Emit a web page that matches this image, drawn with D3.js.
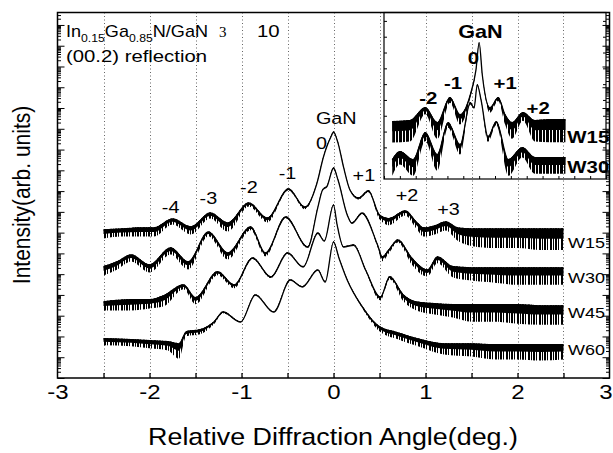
<!DOCTYPE html>
<html>
<head>
<meta charset="utf-8">
<script src="https://cdn.jsdelivr.net/npm/d3@7"></script>
<style>
  body { margin: 0; background: #fff; }
  svg { font-family: "Liberation Sans", Arial, sans-serif; }
</style>
</head>
<body>
<div id="chart"></div>
<script>

// main scans: [relative angle (deg), log10 intensity (decades), noise depth (decades)]
var w15 = [[-2.5,7.12,0.40],[-2.3,7.16,0.35],[-2.1,7.21,0.40],[-1.95,7.21,0.40],[-1.75,7.64,0.25],[-1.55,7.26,0.35],
  [-1.34,7.93,0.25],[-1.15,7.45,0.40],[-0.92,8.41,0.15],[-0.72,7.69,0.20],[-0.49,9.09,0.05],[-0.31,8.22,0.10],
  [-0.18,9.38,0],[-0.11,10.63,0],[-0.03,11.59,0],[0,11.83,0],[0.05,11.30,0],[0.11,10.14,0],[0.18,9.04,0],
  [0.27,8.65,0.05],[0.38,9.00,0.05],[0.5,7.84,0.2],[0.6,7.66,0.3],[0.78,8.03,0.2],[0.9,7.50,0.3],[0.98,7.21,0.4],
  [1.1,7.31,0.4],[1.22,7.50,0.4],[1.35,7.21,0.6],[1.5,7.16,0.8],[1.75,7.16,0.9],[2.0,7.16,0.9],[2.25,7.16,1.0],[2.5,7.16,1.0]];

var w30 = [[-2.5,5.34,0.4],[-2.35,5.58,0.35],[-2.2,5.91,0.3],[-2.0,5.43,0.35],[-1.77,6.25,0.3],[-1.58,5.58,0.35],
  [-1.36,7.02,0.2],[-1.15,6.01,0.3],[-0.9,7.26,0.15],[-0.74,6.01,0.15],[-0.52,7.74,0.05],[-0.28,6.30,0.05],
  [-0.17,8.22,0],[-0.12,9.04,0],[-0.07,9.23,0],[0,10.10,0],[0.05,9.52,0],[0.15,7.84,0],[0.2,7.45,0],
  [0.31,7.93,0.05],[0.48,6.39,0.1],[0.53,5.82,0.2],[0.6,6.15,0.15],[0.7,6.63,0.1],[0.85,5.77,0.3],[1.02,5.19,0.3],
  [1.13,5.82,0.3],[1.3,5.34,0.5],[1.5,5.29,0.6],[1.75,5.29,0.7],[2.0,5.29,0.8],[2.25,5.29,0.8],[2.5,5.29,0.8]];

var w45 = [[-2.5,3.65,0.4],[-2.2,3.75,0.5],[-2.0,3.75,0.4],[-1.85,3.94,0.5],[-1.63,4.47,0.2],[-1.5,3.85,0.3],
  [-1.26,5.10,0.15],[-1.08,4.47,0.15],[-0.88,5.77,0.05],[-0.68,4.86,0.05],[-0.5,6.01,0],[-0.33,5.34,0],
  [-0.17,6.97,0],[-0.1,6.59,0],[0,8.32,0],[0.04,7.36,0],[0.11,6.30,0],[0.22,6.39,0],[0.35,5.19,0.05],
  [0.51,3.89,0.15],[0.61,4.86,0.1],[0.76,3.99,0.3],[0.9,3.65,0.4],[1.1,3.56,0.5],[1.3,3.51,0.6],[1.5,3.51,0.8],
  [1.75,3.51,0.8],[2.0,3.51,0.9],[2.25,3.46,0.9],[2.5,3.46,0.9]];

var w60 = [[-2.5,1.88,0.3],[-2.2,1.83,0.3],[-2.0,1.78,0.35],[-1.8,1.73,0.4],[-1.68,1.63,0.7],[-1.6,2.21,0.2],
  [-1.45,2.31,0.2],[-1.3,2.69,0.1],[-1.2,3.17,0.05],[-1.01,2.69,0],[-0.85,3.99,0],[-0.65,3.17,0],[-0.47,4.71,0],
  [-0.34,4.38,0],[-0.17,5.19,0],[-0.09,4.62,0],[0,6.54,0],[0.06,5.77,0],[0.15,4.71,0],[0.3,3.51,0.05],
  [0.5,2.45,0.2],[0.7,2.16,0.3],[0.95,1.83,0.35],[1.2,1.63,0.5],[1.5,1.63,0.6],[1.75,1.59,0.7],[2.0,1.59,0.7],
  [2.25,1.59,0.75],[2.5,1.59,0.7]];

// inset scans (same layout of values)
var in15 = [[-1.37,3.61,1.3],[-1.09,3.67,1.3],[-0.85,4.49,0.4],[-0.66,3.54,1.0],[-0.46,5.13,0.3],[-0.30,4.05,0.6],
  [-0.14,5.32,0.2],[-0.05,6.90,0],[0,8.61,0],[0.05,6.58,0],[0.17,4.49,0.3],[0.30,5.13,0.2],[0.41,4.05,0.6],
  [0.52,3.54,1.0],[0.69,4.18,0.5],[0.88,3.67,1.3],[1.12,3.73,1.4],[1.36,3.73,1.4]];

var in30 = [[-1.37,1.20,1.0],[-1.25,1.71,0.8],[-1.04,1.20,1.0],[-0.85,2.91,0.5],[-0.66,1.52,1.0],[-0.49,3.54,0.3],
  [-0.30,2.15,0.6],[-0.14,4.81,0.1],[-0.08,4.49,0],[-0.03,5.95,0],[0.03,5.00,0],[0.14,2.66,0.3],[0.27,3.61,0.2],
  [0.46,1.20,1.0],[0.68,1.96,0.6],[0.88,1.33,1.0],[1.12,1.33,1.0],[1.36,1.33,1.0]];

var sampleNames = ["W15", "W30", "W45", "W60"];
// [angle, decades] where each sample name sits
var sampleLabelPos = [[2.55,6.49],[2.55,4.81],[2.55,3.13],[2.55,1.35]];

var satLabels = ["-4", "-3", "-2", "-1", "0", "GaN", "+1", "+2", "+3"];
var satLabelPos = [[-1.77,8.22],[-1.36,8.65],[-0.92,9.18],[-0.5,9.86],[-0.13,11.30],[0.03,12.5],[0.33,9.76],[0.80,8.80],[1.25,8.13]];

var insetLabels = ["GaN", "0", "-2", "-1", "+1", "+2", "W15", "W30"];
var insetLabelPos = [[0.02,9.30],[-0.09,7.66],[-0.80,5.13],[-0.41,6.08],[0.41,6.08],[0.93,4.49],[1.39,2.66],[1.39,0.76]];

var xTickValues = [-3, -2, -1, 0, 1, 2, 3];
var xTickLabels = ["-3", "-2", "-1", "0", "1", "2", "3"];
var gridValues = [-2.5, -2, -1.5, -1, -0.5, 0, 0.5, 1, 1.5, 2, 2.5];

var W = 613, H = 453;
var stretch = 1.2;   // the lettering of the original is a little wide
var svg = d3.select("#chart").append("svg")
  .attr("width", W)
  .attr("height", H);

var x = d3.scaleLinear().domain([-3, 3]).range([57.5, 609.5]);
var y = d3.scaleLog().domain([1, Math.pow(10, 17.6)]).range([378, 12.5]);

var xi = d3.scaleLinear().domain([-1.5, 2.0]).range([384, 606]);
var yi = d3.scaleLog().domain([1, Math.pow(10, 10.5)]).range([179, 13]);

var put_text = function(g, txt, px, py, size, anchor, bold, sx) {
  return g.append("text")
    .attr("transform", "translate(" + px + "," + py + ") scale(" + (sx || stretch) + ",1)")
    .attr("text-anchor", anchor)
    .attr("dominant-baseline", "central")
    .attr("font-size", size)
    .attr("font-weight", bold ? "bold" : "normal")
    .text(txt);
};

// stripes used for the noisy parts of the scans
var defs = svg.append("defs");
defs.append("pattern")
  .attr("id", "spikes")
  .attr("patternUnits", "userSpaceOnUse")
  .attr("width", 11).attr("height", 20)
  .append("path")
  .attr("d", "M0.5,0V20M1.5,0V20M3.5,0V20M5.5,0V20M6.5,0V20M8.5,0V20")
  .attr("stroke", "#000").attr("stroke-width", 1);
defs.append("pattern")
  .attr("id", "spikesDense")
  .attr("patternUnits", "userSpaceOnUse")
  .attr("width", 7).attr("height", 20)
  .append("path")
  .attr("d", "M0.5,0V20M1.5,0V20M2.5,0V20M4.5,0V20M5.5,0V20")
  .attr("stroke", "#000").attr("stroke-width", 1);

// dotted grid
svg.selectAll(".grid").data(gridValues).enter().append("line")
  .attr("class", "grid")
  .attr("x1", function(d) { return Math.round(x(d)) + 0.5; })
  .attr("x2", function(d) { return Math.round(x(d)) + 0.5; })
  .attr("y1", 12.5).attr("y2", 378)
  .style("stroke", "#666")
  .style("stroke-width", 1)
  .style("stroke-dasharray", "1,2.5");

var draw_scan = function(g, data, sx, sy, dense) {
  var py = function(v) { return sy(Math.pow(10, v)); };
  var band = d3.area()
    .x(function(d) { return sx(d[0]); })
    .y0(function(d) { return py(d[1] - d[2]); })
    .y1(function(d) { return py(d[1]) - 1; })
    .curve(d3.curveMonotoneX);
  var core = d3.area()
    .x(function(d) { return sx(d[0]); })
    .y0(function(d) { return py(d[1] - 0.45 * d[2]); })
    .y1(function(d) { return py(d[1]) - 1; })
    .curve(d3.curveMonotoneX);
  var line = d3.line()
    .x(function(d) { return sx(d[0]); })
    .y(function(d) { return py(d[1]); })
    .curve(d3.curveMonotoneX);
  g.append("path").attr("d", band(data))
    .style("fill", dense ? "url(#spikesDense)" : "url(#spikes)");
  g.append("path").attr("d", core(data)).style("fill", "#000");
  g.append("path").attr("d", line(data))
    .style("fill", "none")
    .style("stroke", "#000")
    .style("stroke-width", 1.3);
};

var scans = svg.append("g");
[w15, w30, w45, w60].forEach(function(s) { draw_scan(scans, s, x, y, false); });

sampleNames.forEach(function(d, i) {
  put_text(svg, d, x(sampleLabelPos[i][0]), y(Math.pow(10, sampleLabelPos[i][1])), 15, "start", false);
});
satLabels.forEach(function(d, i) {
  put_text(svg, d, x(satLabelPos[i][0]), y(Math.pow(10, satLabelPos[i][1])), 16.5, "middle", false);
});

// inset
var inset = svg.append("g");
inset.append("rect")
  .attr("x", 384).attr("y", 12.5).attr("width", 222).attr("height", 166.5)
  .style("fill", "none").style("stroke", "#000").style("stroke-width", 1.2);
inset.append("g")
  .attr("transform", "translate(0,179)")
  .call(d3.axisBottom(xi).tickValues(d3.range(-1.5, 2.01, 0.25)).tickSize(-3).tickFormat(""))
  .call(function(g) { g.select(".domain").remove(); });
[[d3.axisLeft, 384], [d3.axisRight, 606]].forEach(function(a) {
  inset.append("g")
    .attr("transform", "translate(" + a[1] + ",0)")
    .call(a[0](yi).tickValues(d3.range(1, 11).map(function(k) { return Math.pow(10, k); })).tickSize(-3).tickFormat(""))
    .call(function(g) { g.select(".domain").remove(); });
});
[in15, in30].forEach(function(s) { draw_scan(inset, s, xi, yi, true); });

insetLabels.forEach(function(d, i) {
  put_text(inset, d, xi(insetLabelPos[i][0]), yi(Math.pow(10, insetLabelPos[i][1])), i == 0 ? 18 : 17,
    i >= 6 ? "start" : "middle", true);
});

// frame and axes
svg.append("rect")
  .attr("x", 57.5).attr("y", 12.5).attr("width", 552).attr("height", 365.5)
  .style("fill", "none").style("stroke", "#000").style("stroke-width", 1.5);

svg.append("g")
  .attr("transform", "translate(0,378)")
  .call(d3.axisBottom(x).tickValues(gridValues).tickSize(-5).tickFormat(""))
  .call(function(g) { g.select(".domain").remove(); g.selectAll("line").style("stroke-width", 1.3); });

svg.append("g")
  .attr("transform", "translate(0,378)")
  .call(d3.axisBottom(x).tickValues(xTickValues).tickSize(0).tickPadding(7)
    .tickFormat(function(d, i) { return xTickLabels[i]; }))
  .call(function(g) {
    g.select(".domain").remove();
    g.selectAll("text")
      .attr("font-size", 20)
      .attr("font-family", "Liberation Sans, Arial, sans-serif")
      .attr("fill", "#000")
      .attr("transform", function(d) { return (d == 3 ? "translate(-4,0) " : "") + "scale(" + stretch + ",1)"; });
  });

var majors = [], minors = [];
for (var k = 0; k <= 17; k++) {
  majors.push(Math.pow(10, k));
  for (var m = 2; m <= 9; m++) {
    if (m * Math.pow(10, k) < Math.pow(10, 17.6)) minors.push(m * Math.pow(10, k));
  }
}
[[d3.axisLeft, 57.5], [d3.axisRight, 609.5]].forEach(function(a) {
  svg.append("g")
    .attr("transform", "translate(" + a[1] + ",0)")
    .call(a[0](y).tickValues(majors).tickSize(-7).tickFormat(""))
    .call(function(g) { g.select(".domain").remove(); });
  svg.append("g")
    .attr("transform", "translate(" + a[1] + ",0)")
    .call(a[0](y).tickValues(minors).tickSize(-3.5).tickFormat(""))
    .call(function(g) { g.select(".domain").remove(); });
});

// titles
put_text(svg, "Relative Diffraction Angle(deg.)", 333, 437, 24, "middle", false, 1.12);
svg.append("text")
  .attr("transform", "translate(22,195) rotate(-90) scale(1,1.15)")
  .attr("text-anchor", "middle")
  .attr("dominant-baseline", "central")
  .attr("font-size", 21)
  .text("Intensity(arb. units)");

// sample annotation
var t1 = svg.append("text")
  .attr("x", 66).attr("y", 37)
  .attr("font-size", 17)
  .attr("textLength", 142)
  .attr("lengthAdjust", "spacingAndGlyphs");
t1.append("tspan").text("In");
t1.append("tspan").attr("font-size", 11.5).attr("dy", 5).text("0.15");
t1.append("tspan").attr("dy", -5).text("Ga");
t1.append("tspan").attr("font-size", 11.5).attr("dy", 5).text("0.85");
t1.append("tspan").attr("dy", -5).text("N/GaN");
svg.append("text")
  .attr("x", 219).attr("y", 37)
  .attr("font-family", "Liberation Serif, serif")
  .attr("font-size", 15).text("3");
svg.append("text")
  .attr("transform", "translate(257,37) scale(" + stretch + ",1)")
  .attr("font-size", 17).text("10");
svg.append("text")
  .attr("x", 66).attr("y", 62)
  .attr("font-size", 17)
  .attr("textLength", 141)
  .attr("lengthAdjust", "spacingAndGlyphs")
  .text("(00.2) reflection");

</script>
</body>
</html>
